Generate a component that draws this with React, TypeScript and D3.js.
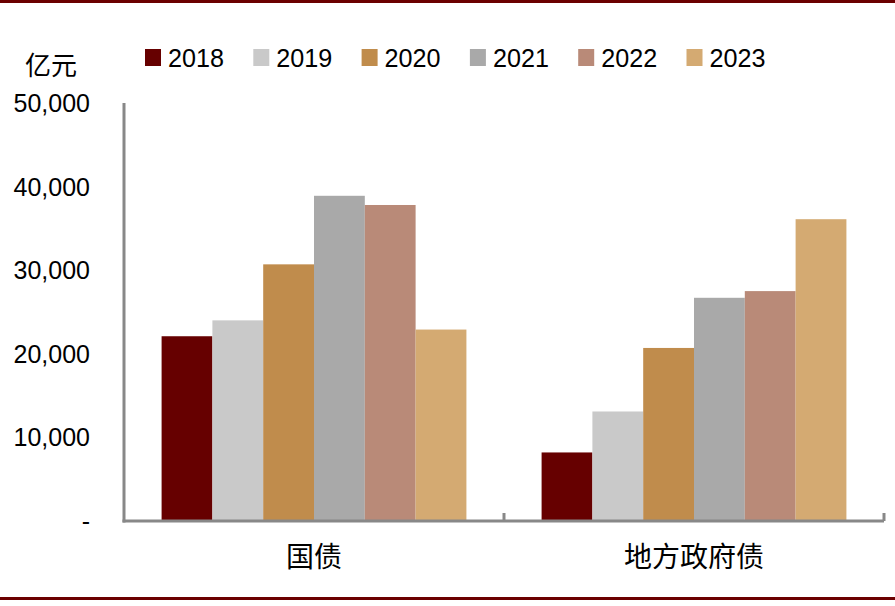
import React from 'react';
import * as d3 from 'd3';

const categories = ['国债', '地方政府债'];
const years = ['2018', '2019', '2020', '2021', '2022', '2023'];
const colors = ['#660000', '#C9C9C9', '#C08C4C', '#A9A9A9', '#B98A78', '#D4AA72'];
// values[categoryIndex][yearIndex], 亿元
const guozhai = [22100, 24000, 30700, 38900, 37800, 22900];
const difangzhai = [8200, 13100, 20700, 26700, 27500, 36100];
const yTicks = [0, 10000, 20000, 30000, 40000, 50000];

const width = 895;
const height = 606;
const margin = { left: 124, right: 11, top: 103, bottom: 85 };

const App: React.FC = () => {
  const seriesByCat = [guozhai, difangzhai];
  const innerBottom = height - margin.bottom;

  const x0 = d3.scaleBand<string>()
    .domain(categories)
    .range([margin.left, width - margin.right])
    .paddingInner(0)
    .paddingOuter(0);

  const x1 = d3.scaleBand<string>()
    .domain(years)
    .range([0, x0.bandwidth()])
    .paddingInner(0)
    .paddingOuter(0.74);

  const y = d3.scaleLinear().domain([0, 50000]).range([innerBottom, margin.top]);
  const fmt = d3.format(',');

  return (
    <svg width={width} height={height} style={{ position: 'absolute', left: 0, top: 0, background: '#fff' }}>
      {/* frame lines */}
      <rect x={0} y={0} width={width} height={3} fill="#6B0000" />
      <rect x={0} y={597} width={width} height={3} fill="#6B0000" />

      {/* unit */}
      <text x={25} y={75} fontFamily="'Noto Sans CJK SC'" fontSize={26} fill="#000">亿元</text>

      {/* legend */}
      {years.map((yr, i) => (
        <g key={yr} transform={`translate(${145 + i * 108.3},0)`}>
          <rect x={0} y={49} width={16} height={17} fill={colors[i]} />
          <text x={23} y={67} fontFamily="'Liberation Sans'" fontSize={25} fill="#000"
            textLength={56} lengthAdjust="spacingAndGlyphs">{yr}</text>
        </g>
      ))}

      {/* y tick labels */}
      {yTicks.map(t => (
        <text key={t} x={90} y={y(t) + 9} textAnchor="end"
          fontFamily="'Liberation Sans'" fontSize={25} fill="#000">
          {t === 0 ? '-' : fmt(t)}
        </text>
      ))}

      {/* bars */}
      {categories.map((c, ci) => (
        <g key={c} transform={`translate(${x0(c)},0)`}>
          {years.map((yr, yi) => {
            const v = seriesByCat[ci][yi];
            return (
              <rect key={yr} x={x1(yr)} y={y(v)} width={x1.bandwidth()} height={innerBottom - y(v)} fill={colors[yi]} />
            );
          })}
        </g>
      ))}

      {/* axes */}
      <line x1={margin.left} x2={margin.left} y1={margin.top} y2={innerBottom + 1.5} stroke="#888" strokeWidth={3} />
      <line x1={margin.left - 1.5} x2={width - margin.right} y1={innerBottom} y2={innerBottom} stroke="#888" strokeWidth={3} />
      {categories.map(c => (
        <line key={c} x1={(x0(c) as number) + x0.bandwidth()} x2={(x0(c) as number) + x0.bandwidth()}
          y1={innerBottom - 8} y2={innerBottom} stroke="#888" strokeWidth={3} />
      ))}

      {/* category labels */}
      {categories.map(c => (
        <text key={c} x={(x0(c) as number) + x0.bandwidth() / 2} y={567} textAnchor="middle"
          fontFamily="'Noto Sans CJK SC'" fontSize={28} fill="#000">{c}</text>
      ))}
    </svg>
  );
};

export default App;
